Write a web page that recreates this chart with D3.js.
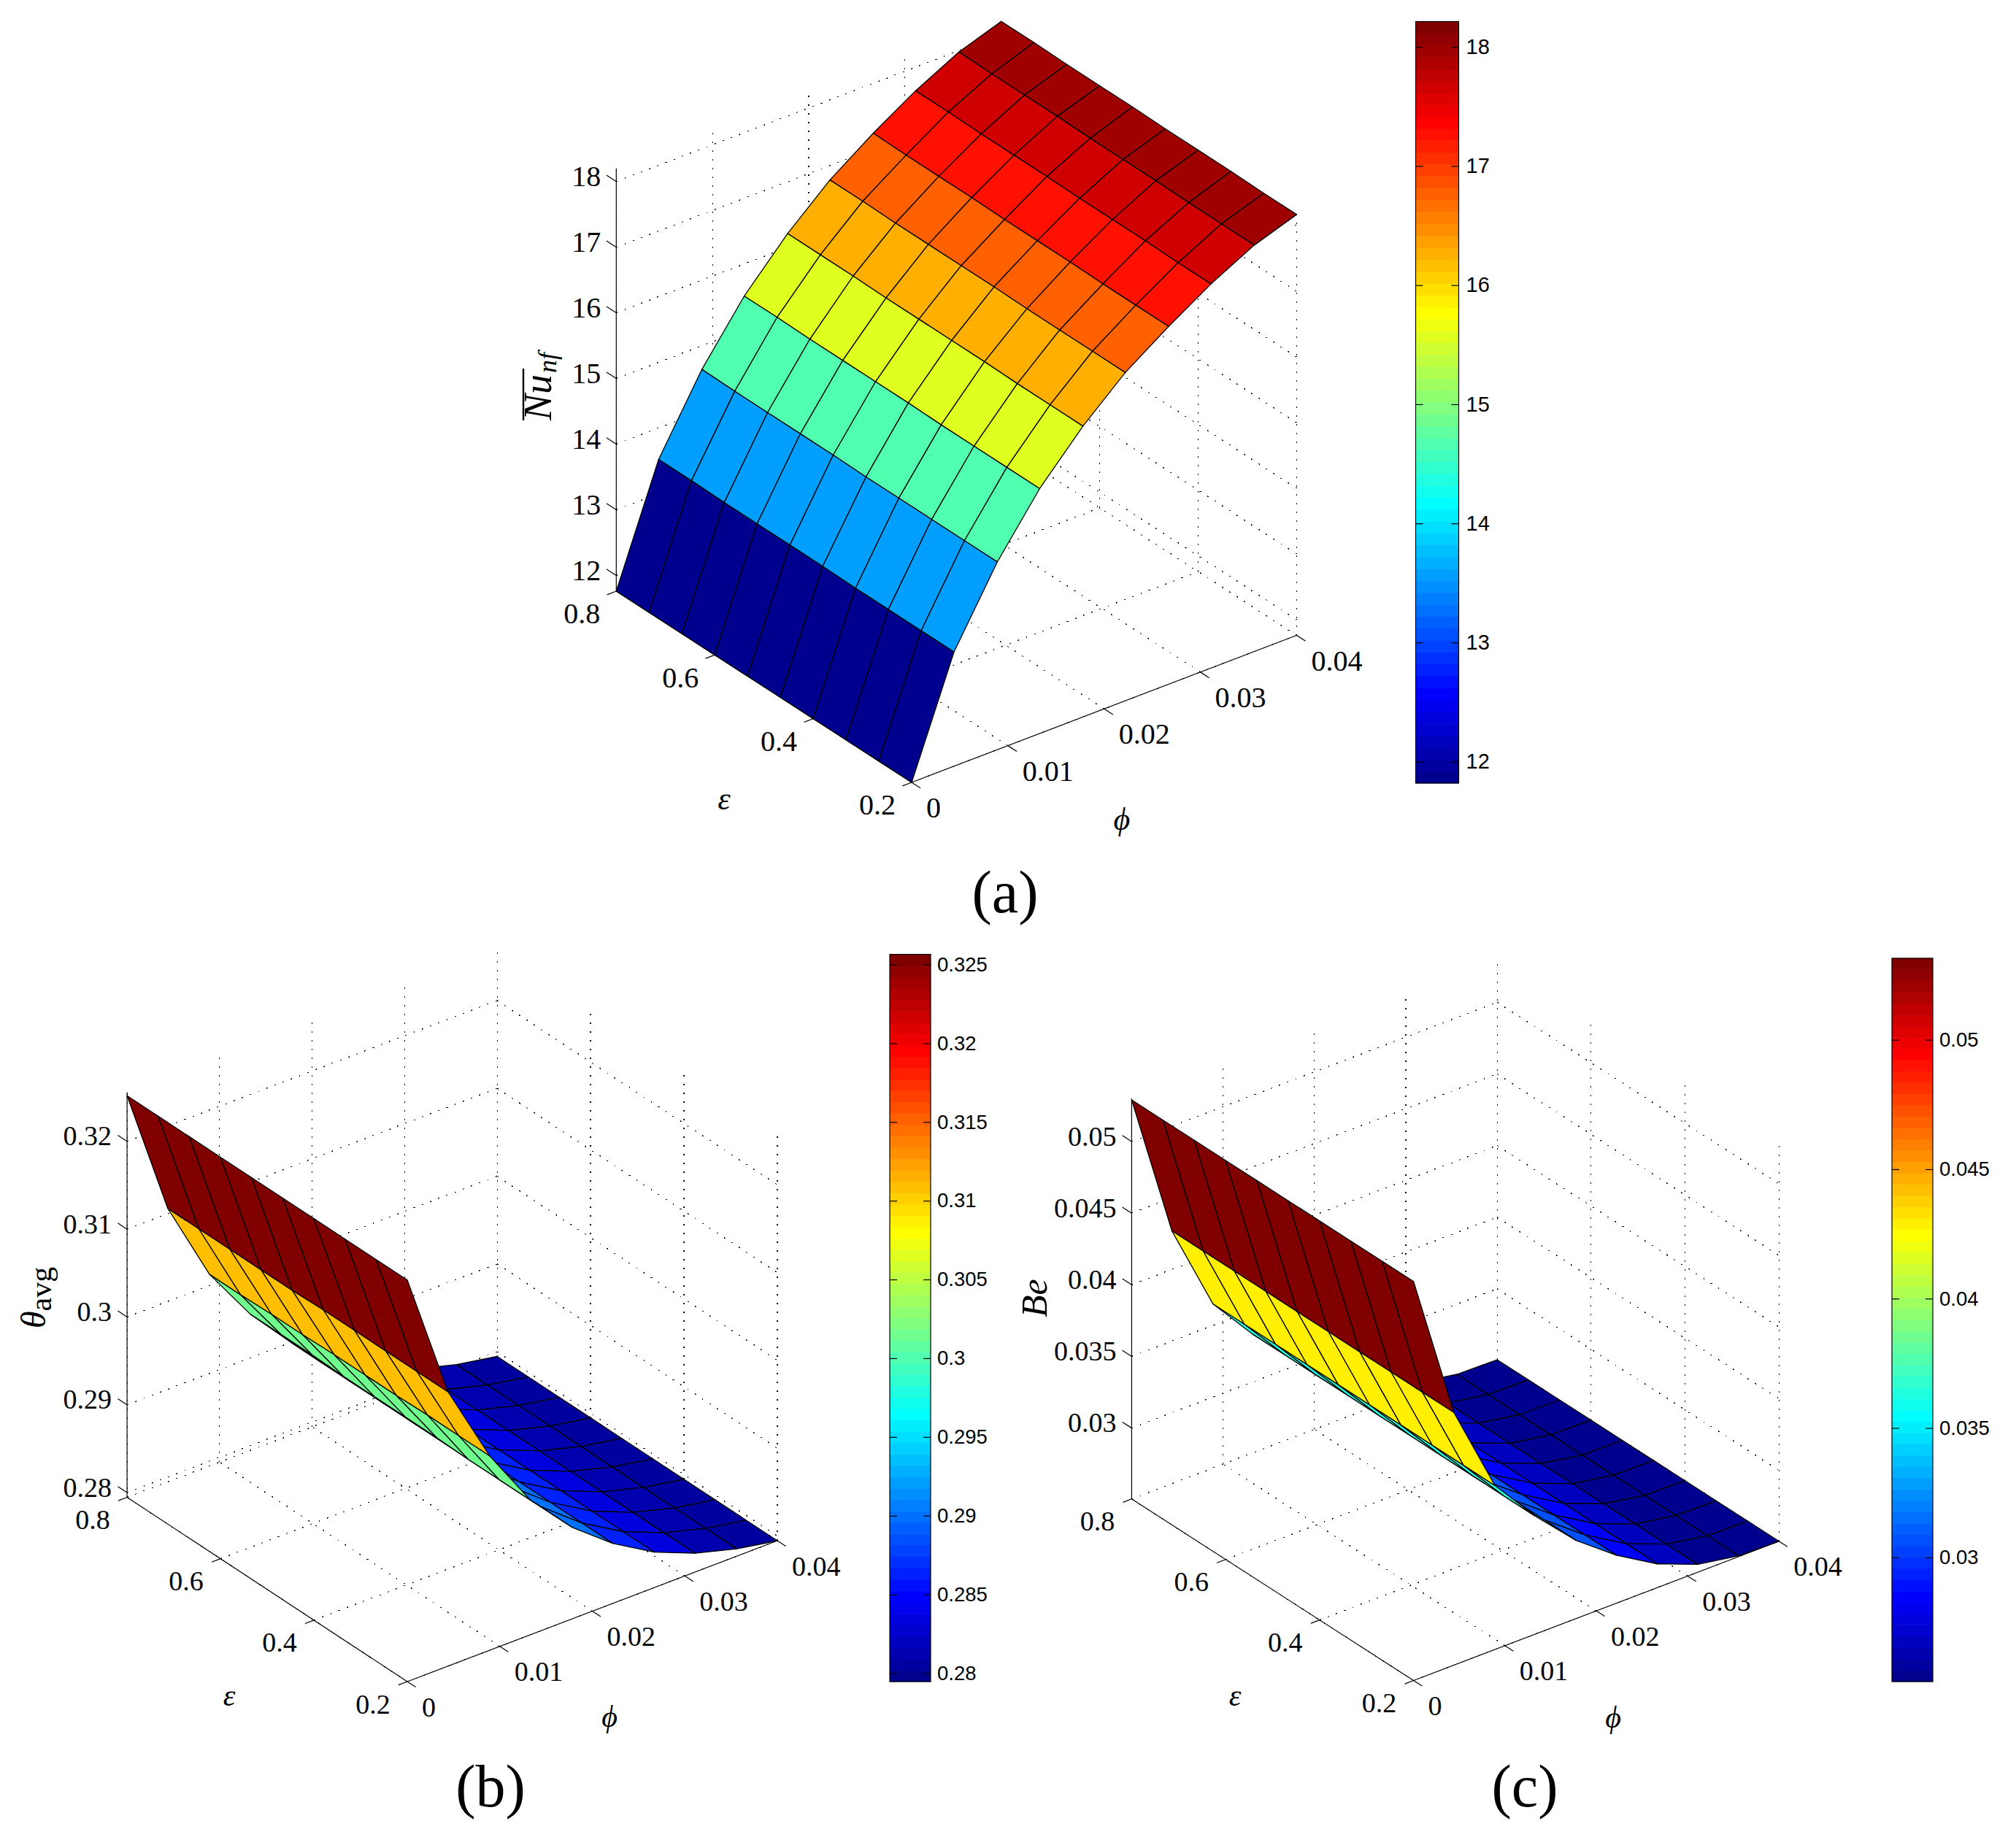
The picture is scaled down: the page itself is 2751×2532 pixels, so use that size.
<!DOCTYPE html>
<html>
<head>
<meta charset="utf-8">
<script src="https://cdn.jsdelivr.net/npm/d3@7"></script>
<style>
  body { margin: 0; background: #fff; }
  svg { display: block; }
</style>
</head>
<body>
<script>
// surface grid (rows follow epsValues, columns follow phiValues)
const epsValues = [0.2, 0.2667, 0.3333, 0.4, 0.4667, 0.5333, 0.6, 0.6667, 0.7333, 0.8];
const phiValues = [0, 0.0044, 0.0089, 0.0133, 0.0178, 0.0222, 0.0267, 0.0311, 0.0356, 0.04];

const nuValues = [
  [11.76, 13.50, 14.62, 15.49, 16.19, 16.76, 17.21, 17.61, 17.95, 18.17],
  [11.76, 13.50, 14.62, 15.49, 16.19, 16.76, 17.21, 17.61, 17.95, 18.17],
  [11.76, 13.50, 14.62, 15.49, 16.19, 16.76, 17.21, 17.62, 17.95, 18.18],
  [11.76, 13.50, 14.62, 15.49, 16.20, 16.76, 17.22, 17.62, 17.96, 18.18],
  [11.76, 13.51, 14.62, 15.50, 16.20, 16.77, 17.22, 17.62, 17.96, 18.18],
  [11.76, 13.51, 14.63, 15.50, 16.20, 16.77, 17.22, 17.63, 17.96, 18.19],
  [11.76, 13.51, 14.63, 15.50, 16.20, 16.77, 17.23, 17.63, 17.97, 18.19],
  [11.76, 13.51, 14.63, 15.50, 16.21, 16.77, 17.23, 17.63, 17.97, 18.19],
  [11.76, 13.52, 14.63, 15.51, 16.21, 16.78, 17.23, 17.64, 17.97, 18.20],
  [11.76, 13.52, 14.64, 15.51, 16.21, 16.78, 17.24, 17.64, 17.98, 18.20]
];
const thetaValues = [
  [0.3252, 0.3107, 0.3016, 0.2948, 0.2899, 0.2863, 0.2835, 0.2816, 0.2803, 0.27946],
  [0.3252, 0.3107, 0.3016, 0.2948, 0.2899, 0.2863, 0.2835, 0.2816, 0.2803, 0.27946],
  [0.3252, 0.3107, 0.3016, 0.2948, 0.2899, 0.2863, 0.2835, 0.2816, 0.2803, 0.27946],
  [0.3252, 0.3107, 0.3015, 0.2949, 0.2899, 0.2863, 0.2835, 0.2816, 0.2803, 0.27946],
  [0.3252, 0.3107, 0.3015, 0.2949, 0.2899, 0.2863, 0.2835, 0.2816, 0.2803, 0.27946],
  [0.3252, 0.3106, 0.3015, 0.2949, 0.2899, 0.2863, 0.2835, 0.2816, 0.2803, 0.27946],
  [0.3252, 0.3106, 0.3014, 0.2949, 0.2899, 0.2863, 0.2835, 0.2816, 0.2803, 0.27946],
  [0.3252, 0.3106, 0.3014, 0.2950, 0.2899, 0.2863, 0.2835, 0.2816, 0.2803, 0.27946],
  [0.3252, 0.3106, 0.3013, 0.2950, 0.2899, 0.2863, 0.2835, 0.2816, 0.2803, 0.27946],
  [0.3252, 0.3106, 0.3013, 0.2950, 0.2899, 0.2863, 0.2835, 0.2816, 0.2803, 0.27946]
];
const beValues = [
  [0.0529, 0.0427, 0.0365, 0.0333, 0.0305, 0.0284, 0.0267, 0.0256, 0.0251, 0.02505],
  [0.0529, 0.0427, 0.0365, 0.0333, 0.0305, 0.0284, 0.0267, 0.0256, 0.0251, 0.02505],
  [0.0529, 0.0427, 0.0365, 0.0333, 0.0305, 0.0284, 0.0267, 0.0256, 0.0251, 0.02505],
  [0.0529, 0.0427, 0.0365, 0.0333, 0.0305, 0.0284, 0.0267, 0.0256, 0.0251, 0.02505],
  [0.0529, 0.0427, 0.0365, 0.0333, 0.0305, 0.0284, 0.0267, 0.0256, 0.0251, 0.02505],
  [0.0529, 0.0427, 0.0365, 0.0333, 0.0305, 0.0284, 0.0267, 0.0256, 0.0251, 0.02505],
  [0.0529, 0.0427, 0.0365, 0.0333, 0.0305, 0.0284, 0.0267, 0.0256, 0.0251, 0.02505],
  [0.0529, 0.0427, 0.0365, 0.0333, 0.0305, 0.0284, 0.0267, 0.0256, 0.0251, 0.02505],
  [0.0529, 0.0427, 0.0365, 0.0333, 0.0305, 0.0284, 0.0267, 0.0256, 0.0251, 0.02505],
  [0.0529, 0.0427, 0.0365, 0.0333, 0.0305, 0.0284, 0.0267, 0.0256, 0.0251, 0.02505]
];

const epsTicks = [0.2, 0.4, 0.6, 0.8];
const phiTicks = [0, 0.01, 0.02, 0.03, 0.04];
const nuTicks = [12, 13, 14, 15, 16, 17, 18];
const thetaTicks = [0.28, 0.29, 0.3, 0.31, 0.32];
const beTicks = [0.03, 0.035, 0.04, 0.045, 0.05];
const thetaBarTicks = [0.28, 0.285, 0.29, 0.295, 0.3, 0.305, 0.31, 0.315, 0.32, 0.325];

// MATLAB jet(64)
const jet = d3.range(64).map((k) => {
  const v = (k + 1) / 16;
  const ch = (c) => Math.round(255 * Math.max(0, Math.min(1, c)));
  return d3.rgb(ch(Math.min(v - 1.5, 4.5 - v)), ch(Math.min(v - 0.5, 3.5 - v)), ch(Math.min(v + 0.5, 2.5 - v))).formatHex();
});

const serif = "'Liberation Serif', serif";
const sans = "'Liberation Sans', sans-serif";

const svg = d3.select("body").append("svg").attr("width", 2751).attr("height", 2532);
svg.append("rect").attr("width", 2751).attr("height", 2532).attr("fill", "#fff");

function drawPanel(p) {
  const g = svg.append("g");
  const zMin = p.zLim[0];
  const zMax = p.zLim[1];

  const epsX = d3.scaleLinear().domain([0.2, 0.8]).range([0, p.left[0] - p.front[0]]);
  const epsY = d3.scaleLinear().domain([0.2, 0.8]).range([0, p.left[1] - p.front[1]]);
  const phiX = d3.scaleLinear().domain([0, 0.04]).range([0, p.right[0] - p.front[0]]);
  const phiY = d3.scaleLinear().domain([0, 0.04]).range([0, p.right[1] - p.front[1]]);
  const zY = d3.scaleLinear().domain(p.zLim).range([0, -p.zHeight]);
  const project = (e, f, z) => [p.front[0] + epsX(e) + phiX(f), p.front[1] + epsY(e) + phiY(f) + zY(z)];

  const line = d3.line();
  const color = d3.scaleQuantize().domain(p.cLim).range(jet);

  // dotted grid: floor and the two back walls
  const gridLines = [];
  epsTicks.forEach((e) => {
    gridLines.push([project(e, 0, zMin), project(e, 0.04, zMin)]);
    gridLines.push([project(e, 0.04, zMin), project(e, 0.04, zMax)]);
  });
  phiTicks.forEach((f) => {
    gridLines.push([project(0.2, f, zMin), project(0.8, f, zMin)]);
    gridLines.push([project(0.8, f, zMin), project(0.8, f, zMax)]);
  });
  p.zTicks.forEach((z) => {
    gridLines.push([project(0.8, 0, z), project(0.8, 0.04, z)]);
    gridLines.push([project(0.8, 0.04, z), project(0.2, 0.04, z)]);
  });
  g.append("g").selectAll("path").data(gridLines).join("path")
    .attr("d", line)
    .attr("fill", "none")
    .attr("stroke", "#000")
    .attr("stroke-width", 1.2)
    .attr("stroke-dasharray", "2 10")
    .attr("shape-rendering", "crispEdges");

  // axis lines and ticks
  const tickE = [(p.right[0] - p.front[0]) * -0.024, (p.right[1] - p.front[1]) * -0.024];
  const tickF = [(p.front[0] - p.left[0]) * 0.03, (p.front[1] - p.left[1]) * 0.03];
  const tickZ = [(p.left[0] - p.front[0]) * 0.033, (p.left[1] - p.front[1]) * 0.033];
  const axisLines = [
    [project(0.8, 0, zMin), project(0.8, 0, zMax)],
    [project(0.8, 0, zMin), project(0.2, 0, zMin)],
    [project(0.2, 0, zMin), project(0.2, 0.04, zMin)]
  ];
  const addTick = (a, v) => axisLines.push([a, [a[0] + v[0], a[1] + v[1]]]);
  epsTicks.forEach((e) => addTick(project(e, 0, zMin), tickE));
  phiTicks.forEach((f) => addTick(project(0.2, f, zMin), tickF));
  p.zTicks.forEach((z) => addTick(project(0.8, 0, z), tickZ));
  g.append("g").selectAll("path").data(axisLines).join("path")
    .attr("d", line)
    .attr("fill", "none")
    .attr("stroke", "#000")
    .attr("stroke-width", 1.2);

  // surface cells, far ones first
  const cells = [];
  for (let i = phiValues.length - 2; i >= 0; i--) {
    for (let j = epsValues.length - 2; j >= 0; j--) {
      cells.push({ i, j, value: p.values[j][i] });
    }
  }
  g.append("g").selectAll("path").data(cells).join("path")
    .attr("d", (c) => line([
      project(epsValues[c.j], phiValues[c.i], p.values[c.j][c.i]),
      project(epsValues[c.j + 1], phiValues[c.i], p.values[c.j + 1][c.i]),
      project(epsValues[c.j + 1], phiValues[c.i + 1], p.values[c.j + 1][c.i + 1]),
      project(epsValues[c.j], phiValues[c.i + 1], p.values[c.j][c.i + 1])
    ]) + "Z")
    .attr("fill", (c) => color(c.value))
    .attr("stroke", "#000")
    .attr("stroke-width", 1.3)
    .attr("stroke-linejoin", "round");

  // tick labels
  const labels = g.append("g").attr("font-family", serif).attr("font-size", p.tickFont).attr("fill", "#000");
  labels.selectAll(".z").data(p.zTicks).join("text")
    .attr("x", (z) => project(0.8, 0, z)[0] - 21)
    .attr("y", (z) => project(0.8, 0, z)[1] - 7)
    .attr("dy", "0.33em").attr("text-anchor", "end").text((d) => String(d));
  labels.selectAll(".e").data(epsTicks).join("text")
    .attr("x", (e) => project(e, 0, zMin)[0] - 47)
    .attr("y", (e) => project(e, 0, zMin)[1] + 31)
    .attr("dy", "0.33em").attr("text-anchor", "middle").text((d) => String(d));
  labels.selectAll(".f").data(phiTicks).join("text")
    .attr("x", (f) => project(0.2, f, zMin)[0] + 20)
    .attr("y", (f) => project(0.2, f, zMin)[1] + 35)
    .attr("dy", "0.33em").attr("text-anchor", "start").text((d) => String(d));

  // axis symbols
  const sym = g.append("g").attr("font-family", serif).attr("font-style", "italic").attr("font-size", p.symFont).attr("text-anchor", "middle");
  sym.append("text").attr("x", p.epsLabel[0]).attr("y", p.epsLabel[1]).attr("dy", "0.2em").text("ε");
  sym.append("text").attr("x", p.phiLabel[0]).attr("y", p.phiLabel[1]).attr("dy", "0.25em").text("ϕ");

  // panel letter
  g.append("text").attr("x", p.letter[0]).attr("y", p.letter[1])
    .attr("font-family", serif).attr("font-size", 82).attr("text-anchor", "middle")
    .text(p.letterText);

  // colorbar
  const barScale = d3.scaleLinear().domain(p.barLim).range([p.bar.y1, p.bar.y0]);
  const bar = svg.append("g");
  const stripe = d3.scaleBand().domain(d3.range(64)).range([p.bar.y1, p.bar.y0]);
  bar.selectAll("rect").data(jet).join("rect")
    .attr("x", p.bar.x0)
    .attr("y", (d, k) => stripe(k) - 0.3)
    .attr("width", p.bar.x1 - p.bar.x0)
    .attr("height", stripe.bandwidth() + 0.6)
    .attr("fill", (d) => d);
  bar.append("rect")
    .attr("x", p.bar.x0).attr("y", p.bar.y0)
    .attr("width", p.bar.x1 - p.bar.x0).attr("height", p.bar.y1 - p.bar.y0)
    .attr("fill", "none").attr("stroke", "#000").attr("stroke-width", 1.2);
  const rightAxis = bar.append("g").attr("transform", `translate(${p.bar.x1},0)`)
    .call(d3.axisRight(barScale).tickValues(p.barTicks).tickSize(-10).tickPadding(p.barPad).tickFormat((d) => String(d)));
  const leftAxis = bar.append("g").attr("transform", `translate(${p.bar.x0},0)`)
    .call(d3.axisLeft(barScale).tickValues(p.barTicks).tickSize(-10).tickFormat(""));
  rightAxis.select(".domain").remove();
  leftAxis.select(".domain").remove();
  rightAxis.selectAll("text").attr("font-family", sans).attr("font-size", p.barFont).attr("fill", "#000");
  bar.selectAll("line").attr("stroke", "#000").attr("stroke-width", 1.2);

  return g;
}

const panelA = drawPanel({
  left: [844.3, 810], front: [1249, 1072], right: [1776.4, 870.5],
  zLim: [11.76, 18.2], zHeight: 579.3, cLim: [11.76, 18.2], values: nuValues, zTicks: nuTicks,
  tickFont: 40, symFont: 44, epsLabel: [992, 1100], phiLabel: [1537, 1126],
  letter: [1377, 1250], letterText: "(a)",
  bar: { x0: 1939.5, x1: 1998.5, y0: 29.5, y1: 1073 }, barLim: [11.82, 18.2125], barTicks: nuTicks, barFont: 29, barPad: 10
});
const panelB = drawPanel({
  left: [174.1, 2051.5], front: [558, 2304], right: [1065, 2111],
  zLim: [0.27946, 0.3256], zHeight: 555, cLim: [0.27947, 0.32564], values: thetaValues, zTicks: thetaTicks,
  tickFont: 38, symFont: 42, epsLabel: [314, 2329], phiLabel: [835, 2355],
  letter: [672, 2475], letterText: "(b)",
  bar: { x0: 1219, x1: 1275, y0: 1307.6, y1: 2304 }, barLim: [0.27947, 0.32564], barTicks: thetaBarTicks, barFont: 27.5, barPad: 9
});
const panelC = drawPanel({
  left: [1550.4, 2053.8], front: [1936.6, 2302.5], right: [2437.3, 2111.7],
  zLim: [0.02505, 0.053], zHeight: 548.7, cLim: [0.0252, 0.05315], values: beValues, zTicks: beTicks,
  tickFont: 38, symFont: 42, epsLabel: [1692, 2329], phiLabel: [2210, 2356],
  letter: [2089, 2475], letterText: "(c)",
  bar: { x0: 2592, x1: 2648, y0: 1313, y1: 2304 }, barLim: [0.0252, 0.05315], barTicks: beTicks, barFont: 27.5, barPad: 9
});

// z axis titles
const nuTitle = panelA.append("g").attr("transform", "translate(755,576) rotate(-90)").attr("font-family", serif).attr("font-style", "italic");
nuTitle.append("line").attr("x1", 0).attr("x2", 71).attr("y1", -38).attr("y2", -38).attr("stroke", "#000").attr("stroke-width", 2.4);
const nuText = nuTitle.append("text").attr("font-size", 54);
nuText.append("tspan").text("Nu");
nuText.append("tspan").attr("font-size", 36).attr("dy", 7).attr("dx", 2).text("nf");

const thetaTitle = panelB.append("g").attr("transform", "translate(62,1820) rotate(-90)").attr("font-family", serif);
const thetaText = thetaTitle.append("text").attr("font-size", 48);
thetaText.append("tspan").attr("font-style", "italic").text("θ");
thetaText.append("tspan").attr("font-size", 42).attr("dy", 8).text("avg");

panelC.append("text").attr("transform", "translate(1434,1805) rotate(-90)")
  .attr("font-family", serif).attr("font-style", "italic").attr("font-size", 50).text("Be");
</script>
</body>
</html>
